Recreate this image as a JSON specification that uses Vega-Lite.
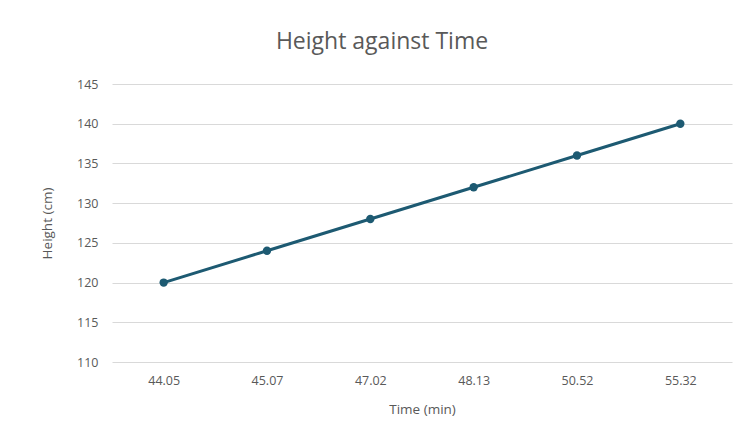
{
  "$schema": "https://vega.github.io/schema/vega-lite/v6.json",
  "width": 620,
  "height": 278,
  "autosize": {"type": "none"},
  "padding": {"left": 112, "top": 84, "right": 10, "bottom": 86},
  "background": "white",
  "title": {
    "text": "Height against Time",
    "fontSize": 23,
    "font": "Open Sans",
    "fontWeight": "normal",
    "color": "#595959",
    "anchor": "middle",
    "dx": -40,
    "offset": 24
  },
  "data": {
    "values": [
      {"time": "44.05", "height": 120},
      {"time": "45.07", "height": 124},
      {"time": "47.02", "height": 128},
      {"time": "48.13", "height": 132},
      {"time": "50.52", "height": 136},
      {"time": "55.32", "height": 140}
    ]
  },
  "mark": {
    "type": "line",
    "color": "#1d5a72",
    "strokeWidth": 3,
    "point": {"filled": true, "size": 70, "color": "#1d5a72"}
  },
  "encoding": {
    "x": {
      "field": "time",
      "type": "ordinal",
      "sort": null,
      "scale": {"paddingInner": 0, "paddingOuter": 0.5},
      "axis": {
        "title": "Time (min)",
        "labelAngle": 0,
        "labelFont": "Open Sans",
        "labelFontSize": 12.5,
        "labelColor": "#595959",
        "labelPadding": 12,
        "titleFont": "Open Sans",
        "titleFontSize": 13.5,
        "titleFontWeight": "normal",
        "titleColor": "#595959",
        "titlePadding": 16,
        "ticks": false,
        "domain": false,
        "grid": false
      }
    },
    "y": {
      "field": "height",
      "type": "quantitative",
      "scale": {"domain": [110, 145], "nice": false, "zero": false},
      "axis": {
        "title": "Height (cm)",
        "values": [110, 115, 120, 125, 130, 135, 140, 145],
        "labelFont": "Open Sans",
        "labelFontSize": 12.5,
        "labelColor": "#595959",
        "labelPadding": 14,
        "titleFont": "Open Sans",
        "titleFontSize": 13.5,
        "titleFontWeight": "normal",
        "titleColor": "#595959",
        "titlePadding": 22,
        "ticks": false,
        "domain": false,
        "grid": true,
        "gridColor": "#d9d9d9",
        "gridWidth": 1
      }
    }
  },
  "config": {"view": {"stroke": null}}
}
